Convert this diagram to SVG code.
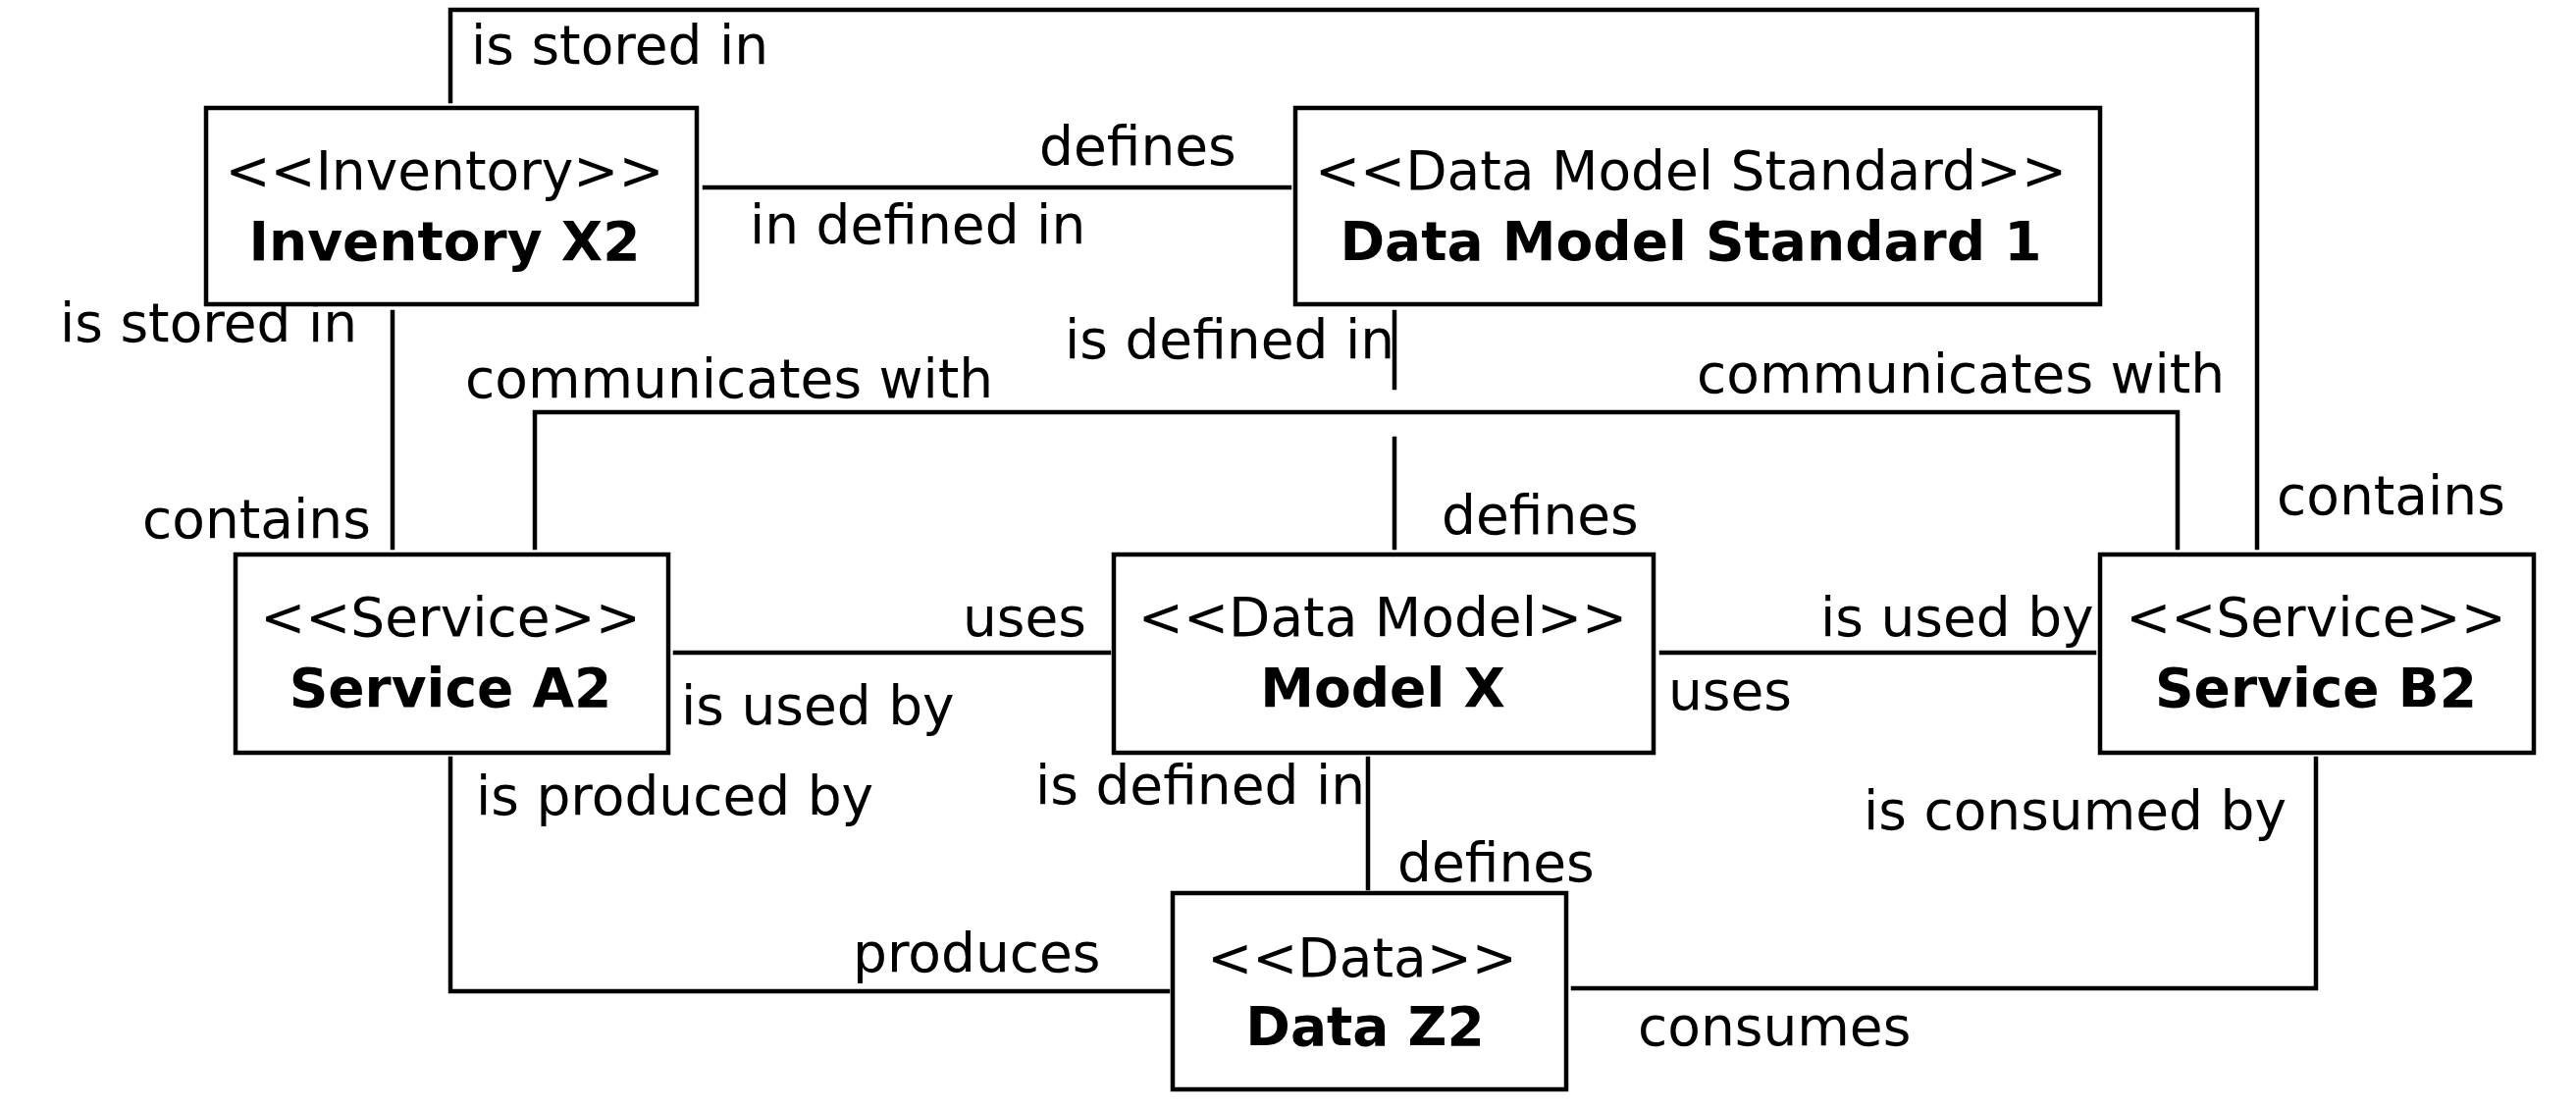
<svg xmlns="http://www.w3.org/2000/svg" width="2625" height="1130" viewBox="0 0 2625 1130">
<style>
text{font-family:"DejaVu Sans","Liberation Sans",sans-serif;font-size:55px;fill:#000}
.b{font-weight:bold}
.c{text-anchor:middle}
.box{fill:#fff;stroke:#000;stroke-width:4.5}
.ln{fill:none;stroke:#000;stroke-width:4.5;stroke-linecap:square;stroke-linejoin:miter}
</style>
<rect width="2625" height="1130" fill="#fff"/>
<g id="connectors">
<path class="ln" d="M459,103 V10 H2300 V558"/>
<path class="ln" d="M718,191 H1314"/>
<path class="ln" d="M400,318 V558"/>
<path class="ln" d="M1421,318 V395"/>
<path class="ln" d="M1421,447 V558"/>
<path class="ln" d="M545,558 V420 H2219 V558"/>
<path class="ln" d="M688,665 H1130"/>
<path class="ln" d="M1693,665 H2134"/>
<path class="ln" d="M459,773 V1010 H1190"/>
<path class="ln" d="M1394,773 V905"/>
<path class="ln" d="M1603,1007 H2360 V773"/>
<text x="480" y="65">is stored in</text>
<text x="1059" y="168">defines</text>
<text x="764" y="248">in defined in</text>
<text x="61" y="348">is stored in</text>
<text x="474" y="405">communicates with</text>
<text x="1085" y="365">is defined in</text>
<text x="1729" y="400">communicates with</text>
<text x="145" y="548">contains</text>
<text x="1469" y="544">defines</text>
<text x="2320" y="524">contains</text>
<text x="981" y="648">uses</text>
<text x="694" y="738">is used by</text>
<text x="1855" y="648">is used by</text>
<text x="1700" y="723">uses</text>
<text x="485" y="830">is produced by</text>
<text x="1055" y="819">is defined in</text>
<text x="1424" y="898">defines</text>
<text x="1899" y="845">is consumed by</text>
<text x="869" y="990">produces</text>
<text x="1669" y="1065">consumes</text>
</g>
<g id="inventory-x2">
<rect class="box" x="210" y="110" width="500" height="200"/>
<text class="c" x="453" y="193">&lt;&lt;Inventory&gt;&gt;</text>
<text class="c b" x="453" y="265">Inventory X2</text>
</g>
<g id="data-model-standard-1">
<rect class="box" x="1320" y="110" width="820" height="200"/>
<text class="c" x="1723" y="193">&lt;&lt;Data Model Standard&gt;&gt;</text>
<text class="c b" x="1723" y="265">Data Model Standard 1</text>
</g>
<g id="service-a2">
<rect class="box" x="240" y="565" width="441" height="202"/>
<text class="c" x="459" y="648">&lt;&lt;Service&gt;&gt;</text>
<text class="c b" x="459" y="720">Service A2</text>
</g>
<g id="model-x">
<rect class="box" x="1135" y="565" width="550" height="202"/>
<text class="c" x="1409" y="648">&lt;&lt;Data Model&gt;&gt;</text>
<text class="c b" x="1409" y="720">Model X</text>
</g>
<g id="service-b2">
<rect class="box" x="2140" y="565" width="442" height="202"/>
<text class="c" x="2360" y="648">&lt;&lt;Service&gt;&gt;</text>
<text class="c b" x="2360" y="720">Service B2</text>
</g>
<g id="data-z2">
<rect class="box" x="1195" y="910" width="401" height="200"/>
<text class="c" x="1388" y="995">&lt;&lt;Data&gt;&gt;</text>
<text class="c b" x="1391" y="1065">Data Z2</text>
</g>
</svg>
